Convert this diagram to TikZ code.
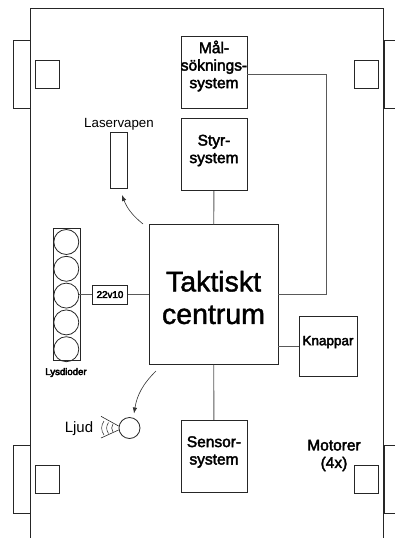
\documentclass[tikz,border=0pt]{standalone}
\usepackage{fontspec}
\setmainfont{Liberation Sans}
\usepackage{xcolor}
\usetikzlibrary{arrows.meta,positioning}
\newcommand\heavy[2][0.4]{\special{pdf:code 2 Tr #1 w}#2\special{pdf:code 0 Tr}}

\begin{document}
\begin{tikzpicture}[
  x=1pt,y=-1pt,
  box/.style={draw=black!85,line width=0.8pt,inner sep=0pt,minimum width=#1},
  box/.default=66pt,
  txt/.style={align=center,inner sep=0pt,font=\fontsize{15.5}{17.5}\selectfont},
  led/.style={draw=black!85,line width=0.8pt,circle,inner sep=0pt,minimum size=25pt},
  arr/.style={-{Latex[length=6pt,width=4.5pt]},line width=0.6pt,black!80},
  wire/.style={draw=black!65,line width=0.9pt}
]
\useasboundingbox (0,0) rectangle (395,538);

\draw[draw=black!85,line width=0.9pt] (30.5,538) -- (30.5,8) -- (383,8) -- (383,538);

\node[box=17pt,minimum height=68pt] (wheelnw) at (21.5,74) {};
\node[box=17pt,minimum height=68pt] (wheelsw) at (21.5,479) {};
\draw[draw=black!85,line width=0.8pt] (395,40) -- (384.5,40) -- (384.5,108) -- (395,108);
\draw[draw=black!85,line width=0.8pt] (395,445) -- (384.5,445) -- (384.5,513) -- (395,513);
\node[box=24pt,minimum height=27.5pt] (motornw) at (47.5,74.5) {};
\node[box=24pt,minimum height=27.5pt] (motorne) at (366.5,74.5) {};
\node[box=24pt,minimum height=27.5pt] (motorsw) at (47.5,479.5) {};
\node[box=24pt,minimum height=27.5pt] (motorse) at (366.5,479.5) {};

\node[box,minimum height=71.5pt] (mal) at (214,72.25) {};
\node[box,minimum height=72pt,below=10pt of mal] (styr) {};
\node[box=129pt,minimum height=139.5pt] (takt) at (213.5,294.6) {};
\node[box,minimum height=72pt] (sensor) at (214,456.2) {};
\node[box=58pt,minimum height=59.6pt] (knappar) at (328,346.5) {};
\node[box=35pt,minimum height=18.7pt] (chip) at (110,294.6) {};
\node[box=27pt,minimum height=132.5pt] (ledbar) at (66.5,294.6) {};
\node[box=17pt,minimum height=56pt] (laser) at (119,160.5) {};

\node[txt] (maltxt) at (214,66) {\heavy{Mål-\\söknings-\\system}};
\node[txt] (styrtxt) at (214,150.5) {\heavy{Styr-\\system}};
\node[txt,font=\fontsize{28.5}{32.5}\selectfont] (takttxt) at (213.5,297.5) {\heavy{Taktiskt\\centrum}};
\node[txt] (sensortxt) at (214,452) {\heavy{Sensor-\\system}};
\node[txt,font=\fontsize{13.5}{15}\selectfont] (knapptxt) at (328,342) {\heavy{Knappar}};
\node[txt,font=\fontsize{9.8}{11}\selectfont] (chiptxt) at (110,294.6) {\heavy{22v10}};
\node[txt,font=\fontsize{9.6}{11}\selectfont] (ledtxt) at (66,372.5) {\heavy{Lysdioder}};
\node[txt] (motortxt) at (334,455.5) {\heavy{Motorer\\(4x)}};
\node[inner sep=0pt,font=\fontsize{13.3}{15}\selectfont] (lasertxt) at (119,124.5) {Laservapen};
\node[inner sep=0pt,font=\fontsize{15}{17}\selectfont] (ljudtxt) at (79,428.5) {Ljud};

\node[led] (led1) at (66.3,242) {};
\node[led,below=1pt of led1] (led2) {};
\node[led,below=1pt of led2] (led3) {};
\node[led,below=1pt of led3] (led4) {};
\node[led,below=1pt of led4] (led5) {};

\node[led,minimum size=21pt] (ljud) at (129.5,428) {};
\coordinate (conetop) at (101,416.3);
\coordinate (conebot) at (101,438);
\draw[draw=black!85,line width=0.6pt] (conetop) -- (ljud.170);
\draw[draw=black!85,line width=0.6pt] (conebot) -- (ljud.190);
\draw[draw=black!85,line width=0.5pt] (104,421) to[bend right=35] (104,435);
\draw[draw=black!85,line width=0.5pt] (108.5,422.5) to[bend right=35] (108.5,433.5);
\draw[draw=black!85,line width=0.5pt] (113,424) to[bend right=35] (113,432);

\coordinate (bendmal) at (326,74);
\draw[wire] (bendmal -| mal.east) -- (bendmal) |- (takt.east);
\draw[wire] (styr) -- (takt);
\draw[wire] (takt) -- (sensor);
\draw[wire] (knappar.west) -- (knappar.west -| takt.east);
\draw[wire] (chip.east) -- (chip.east -| takt.west);
\draw[wire] (chip.west) -- (chip.west -| led3.east);

\coordinate (laserfrom) at (143,224);
\coordinate (laserto) at (122,195);
\coordinate (ljudfrom) at (156,371);
\coordinate (ljudto) at (134,413.5);
\draw[arr] (laserfrom) to[bend left=15] (laserto);
\draw[arr] (ljudfrom) to[bend right=18] (ljudto);
\end{tikzpicture}
\end{document}
